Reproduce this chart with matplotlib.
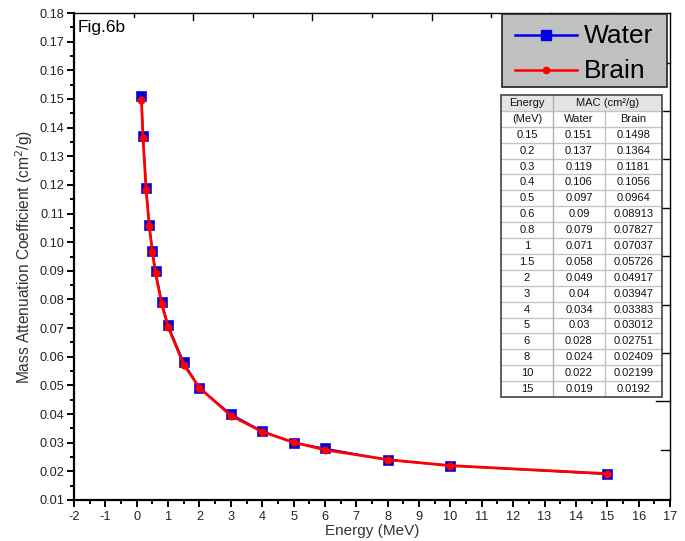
import numpy as np
import matplotlib
matplotlib.use("Agg")
import matplotlib.pyplot as plt
from matplotlib.patches import Rectangle

plt.rcParams['font.family'] = ['Liberation Sans', 'DejaVu Sans']

# Photon energies (MeV) and mass attenuation coefficients (cm^2/g)
energy = [0.15, 0.2, 0.3, 0.4, 0.5, 0.6, 0.8, 1, 1.5, 2, 3, 4, 5, 6, 8, 10, 15]
water = [0.151, 0.137, 0.119, 0.106, 0.097, 0.09, 0.079, 0.071, 0.058,
         0.049, 0.04, 0.034, 0.03, 0.028, 0.024, 0.022, 0.019]
brain = [0.1498, 0.1364, 0.1181, 0.1056, 0.0964, 0.08913, 0.07827, 0.07037,
         0.05726, 0.04917, 0.03947, 0.03383, 0.03012, 0.02751, 0.02409,
         0.02199, 0.0192]

energy_txt = ["0.15", "0.2", "0.3", "0.4", "0.5", "0.6", "0.8", "1", "1.5",
              "2", "3", "4", "5", "6", "8", "10", "15"]
water_txt = ["0.151", "0.137", "0.119", "0.106", "0.097", "0.09", "0.079",
             "0.071", "0.058", "0.049", "0.04", "0.034", "0.03", "0.028",
             "0.024", "0.022", "0.019"]
brain_txt = ["0.1498", "0.1364", "0.1181", "0.1056", "0.0964", "0.08913",
             "0.07827", "0.07037", "0.05726", "0.04917", "0.03947", "0.03383",
             "0.03012", "0.02751", "0.02409", "0.02199", "0.0192"]

W, H = 685, 541
fig = plt.figure(figsize=(W / 100, H / 100), dpi=100)
ax = fig.add_axes([74 / W, 1 - 500 / H, (670 - 74) / W, (500 - 13) / H])

ax.plot(energy, water, color='#0000ee', lw=1.3, marker='s', ms=7.2,
        mfc='#0000cc', mec='#2020ff', mew=0.6, zorder=3, label='Water')
ax.plot(energy, brain, color='#ff0000', lw=2.0, marker='o', ms=4.8,
        mfc='#ff0000', mec='#ff0000', zorder=4, label='Brain')

ax.set_xlim(-2, 17)
ax.set_ylim(0.01, 0.18)
ax.set_xticks(np.arange(-2, 18, 1))
ax.set_xticks(np.arange(-2, 17.01, 0.5), minor=True)
ax.set_yticks(np.arange(0.01, 0.1801, 0.01))
ax.set_yticks(np.arange(0.01, 0.1801, 0.005), minor=True)
ax.set_xticklabels([str(v) for v in range(-2, 18)])
ax.set_yticklabels([f"{v:.2f}" for v in np.arange(0.01, 0.1801, 0.01)])

ax.tick_params(which='major', direction='out', length=5, width=1.4,
               labelsize=9.2, labelcolor='#222222', top=False, right=False, pad=2)
ax.tick_params(axis='x', which='major', pad=3)
ax.tick_params(which='minor', direction='out', length=3, width=1.4,
               top=False, right=False)
for s in ['left', 'bottom']:
    ax.spines[s].set_linewidth(1.6)
for s in ['top', 'right']:
    ax.spines[s].set_linewidth(1.0)

# Inward ticks on the top and right frame edges
for i, xv in enumerate(np.arange(-0.1, 16.0, 1.9)):
    ax.plot([xv, xv], [0.18, 0.18 - (0.0025 if i % 2 else 0.0015)],
            color='black', lw=1.0, clip_on=False, zorder=2)
for i, yv in enumerate(np.arange(0.0275, 0.175, 0.0169)):
    ax.plot([17, 17 - (0.45 if i % 2 else 0.3)], [yv, yv],
            color='black', lw=1.0, clip_on=False, zorder=2)

ax.set_xlabel("Energy (MeV)", fontsize=11, color='#333333', labelpad=1)
ax.set_ylabel("Mass Attenuation Coefficient (cm$^2$/g)", fontsize=11.2,
              color='#333333', labelpad=3)
ax.text(0.006, 0.985, "Fig.6b", transform=ax.transAxes, fontsize=12.5,
        va='top', ha='left', color='black')

# Legend box
ov = fig.add_axes([0, 0, 1, 1], facecolor='none')
ov.set_xlim(0, W)
ov.set_ylim(H, 0)
ov.axis('off')
ov.add_patch(Rectangle((502, 14), 165, 73, facecolor='#c0c0c0',
                       edgecolor='#222222', lw=1.2, zorder=5))
for yy, lab, col, mk, ms in [(35, 'Water', '#0000ee', 's', 6.5),
                             (70, 'Brain', '#ff0000', 'o', 4.5)]:
    ov.plot([515, 577], [yy, yy], color=col, lw=1.8, zorder=6)
    ov.plot([546], [yy], marker=mk, ms=ms, color=col, mfc=col, zorder=6)
    ov.text(584, yy + 1, lab, fontsize=19, va='center', ha='left',
            color='black', zorder=6)

# Data table
tx0, ty0 = 501, 95
col_x = [501, 553, 605, 662]
n_rows = 19
row_h = (397 - 95) / n_rows
ty1 = ty0 + n_rows * row_h
ov.add_patch(Rectangle((tx0, ty0), col_x[-1] - tx0, ty1 - ty0,
                       facecolor='white', edgecolor='none', zorder=5))
ov.add_patch(Rectangle((tx0, ty0), col_x[-1] - tx0, row_h,
                       facecolor='#e4e4e4', edgecolor='none', zorder=5))
for r in range(1, n_rows):
    y = ty0 + r * row_h
    ov.plot([tx0, col_x[-1]], [y, y], color='#c4c4c4', lw=1.0, zorder=6)
ov.plot([col_x[1], col_x[1]], [ty0, ty1], color='#b0b0b0', lw=1.0, zorder=6)
ov.plot([col_x[2], col_x[2]], [ty0 + row_h, ty1], color='#c4c4c4', lw=1.0, zorder=6)
ov.add_patch(Rectangle((tx0, ty0), col_x[-1] - tx0, ty1 - ty0,
                       facecolor='none', edgecolor='#444444', lw=1.2, zorder=7))

tkw = dict(fontsize=8, ha='center', va='center', color='#111111', zorder=8)
cx = [(col_x[i] + col_x[i + 1]) / 2 for i in range(3)]
ov.text(cx[0], ty0 + row_h / 2, "Energy", **tkw)
ov.text((col_x[1] + col_x[3]) / 2, ty0 + row_h / 2, "MAC (cm\u00b2/g)", **tkw)
ov.text(cx[0], ty0 + 1.5 * row_h, "(MeV)", **tkw)
ov.text(cx[1], ty0 + 1.5 * row_h, "Water", **tkw)
ov.text(cx[2], ty0 + 1.5 * row_h, "Brain", **tkw)
for i in range(len(energy_txt)):
    yc = ty0 + (i + 2.5) * row_h
    ov.text(cx[0], yc, energy_txt[i], **tkw)
    ov.text(cx[1], yc, water_txt[i], **tkw)
    ov.text(cx[2], yc, brain_txt[i], **tkw)

fig.savefig("out.png", dpi=100)
